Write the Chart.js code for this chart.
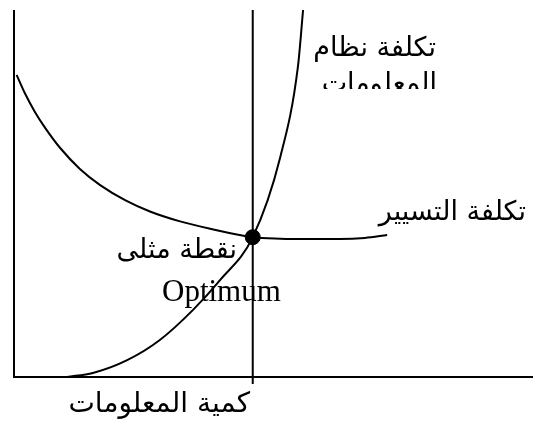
<!DOCTYPE html>
<html lang="ar">
<head>
<meta charset="utf-8">
<script src="https://cdn.jsdelivr.net/npm/chart.js@4"></script>
<style>
  html, body { margin: 0; padding: 0; background: #fff; }
  canvas { display: block; }
</style>
</head>
<body>
<canvas id="myChart" width="533" height="429"></canvas>
<script>
// operating (management) cost curve - falls, then flattens
var mgmtQty  = [0.5, 2.1, 4.0, 6.0, 8.9, 12.7, 16.6, 21.4, 26.2, 32.0, 37.8, 46.0, 51.3, 57.0, 62.8, 67.6, 71.9];
var mgmtCost = [82.3, 77.3, 72.3, 67.9, 62.4, 56.7, 52.3, 48.2, 45.1, 42.4, 40.4, 38.1, 37.7, 37.6, 37.6, 37.9, 38.7];

// information system cost curve - rises steeply
var sysQty  = [10.2, 15.2, 21.8, 28.1, 34.5, 39.7, 46.0, 51.3, 54.7, 55.7];
var sysCost = [0, 1.1, 4.6, 10.1, 18.3, 26.4, 38.1, 59.9, 84.5, 100];

// optimum point
var optimumQty  = [46.0];
var optimumCost = [38.1];

var labelSysCost1 = 'تكلفة نظام';
var labelSysCost2 = 'المعلومات';
var labelMgmtCost = 'تكلفة التسيير';
var labelOptimumAr = 'نقطة مثلى';
var labelOptimumEn = 'Optimum';
var labelXAxis = 'كمية المعلومات';

function toPoints(xs, ys){
	var pts = [];
	for(var i in xs){
		pts.push({x: xs[i], y: ys[i]});
	}
	return pts;
}

var arFont = '"DejaVu Sans", sans-serif';

// axes, optimum line and the texts
var drawingPlugin = {
	id: 'drawing',
	beforeDatasetsDraw: function(chart){
		var ctx = chart.ctx;
		var a = chart.chartArea;
		var xs = chart.scales.x;
		ctx.save();
		ctx.strokeStyle = '#000';
		ctx.lineWidth = 2;
		ctx.beginPath();
		ctx.moveTo(a.left, a.top);
		ctx.lineTo(a.left, a.bottom);
		ctx.lineTo(a.right, a.bottom);
		ctx.stroke();
		var ox = xs.getPixelForValue(optimumQty[0]);
		ctx.beginPath();
		ctx.moveTo(ox, a.top);
		ctx.lineTo(ox, a.bottom + 7);
		ctx.stroke();
		ctx.restore();
	},
	afterDraw: function(chart){
		var ctx = chart.ctx;
		ctx.save();
		ctx.fillStyle = '#000';
		ctx.direction = 'rtl';
		ctx.textAlign = 'right';
		ctx.textBaseline = 'alphabetic';
		ctx.font = '27px ' + arFont;
		ctx.fillText(labelSysCost1, 436, 56);
		ctx.fillText(labelMgmtCost, 526, 220);
		ctx.fillText(labelOptimumAr, 237, 258);
		ctx.font = '28px ' + arFont;
		ctx.fillText(labelXAxis, 250, 412);
		// second line is cut off in the original
		ctx.save();
		ctx.beginPath();
		ctx.rect(0, 0, 533, 89);
		ctx.clip();
		ctx.font = '27px ' + arFont;
		ctx.fillText(labelSysCost2, 437, 92);
		ctx.restore();
		ctx.direction = 'ltr';
		ctx.textAlign = 'left';
		ctx.font = '31px "Liberation Serif", "Times New Roman", serif';
		ctx.fillText(labelOptimumEn, 162, 301);
		ctx.restore();
	}
};

var ctx = document.getElementById('myChart');

var chart = new Chart(ctx, {
	type: 'scatter',
	data: {
		datasets: [
			{
				label: labelMgmtCost,
				data: toPoints(mgmtQty, mgmtCost),
				showLine: true,
				borderColor: '#000',
				borderWidth: 2,
				pointRadius: 0,
				cubicInterpolationMode: 'monotone',
				clip: false
			},
			{
				label: labelSysCost1 + ' ' + labelSysCost2,
				data: toPoints(sysQty, sysCost),
				showLine: true,
				borderColor: '#000',
				borderWidth: 2,
				pointRadius: 0,
				cubicInterpolationMode: 'monotone',
				clip: false
			},
			{
				label: labelOptimumEn,
				data: toPoints(optimumQty, optimumCost),
				backgroundColor: '#000',
				borderColor: '#000',
				pointRadius: 7.5,
				clip: false
			}
		]
	},
	options: {
		responsive: false,
		animation: false,
		devicePixelRatio: 1,
		layout: { autoPadding: false, padding: { left: 14, top: 10, right: 0, bottom: 52 } },
		plugins: { legend: { display: false }, tooltip: { enabled: false } },
		scales: {
			x: { type: 'linear', min: 0, max: 100, display: false },
			y: { type: 'linear', min: 0, max: 100, display: false }
		}
	},
	plugins: [drawingPlugin]
});
</script>
</body>
</html>
